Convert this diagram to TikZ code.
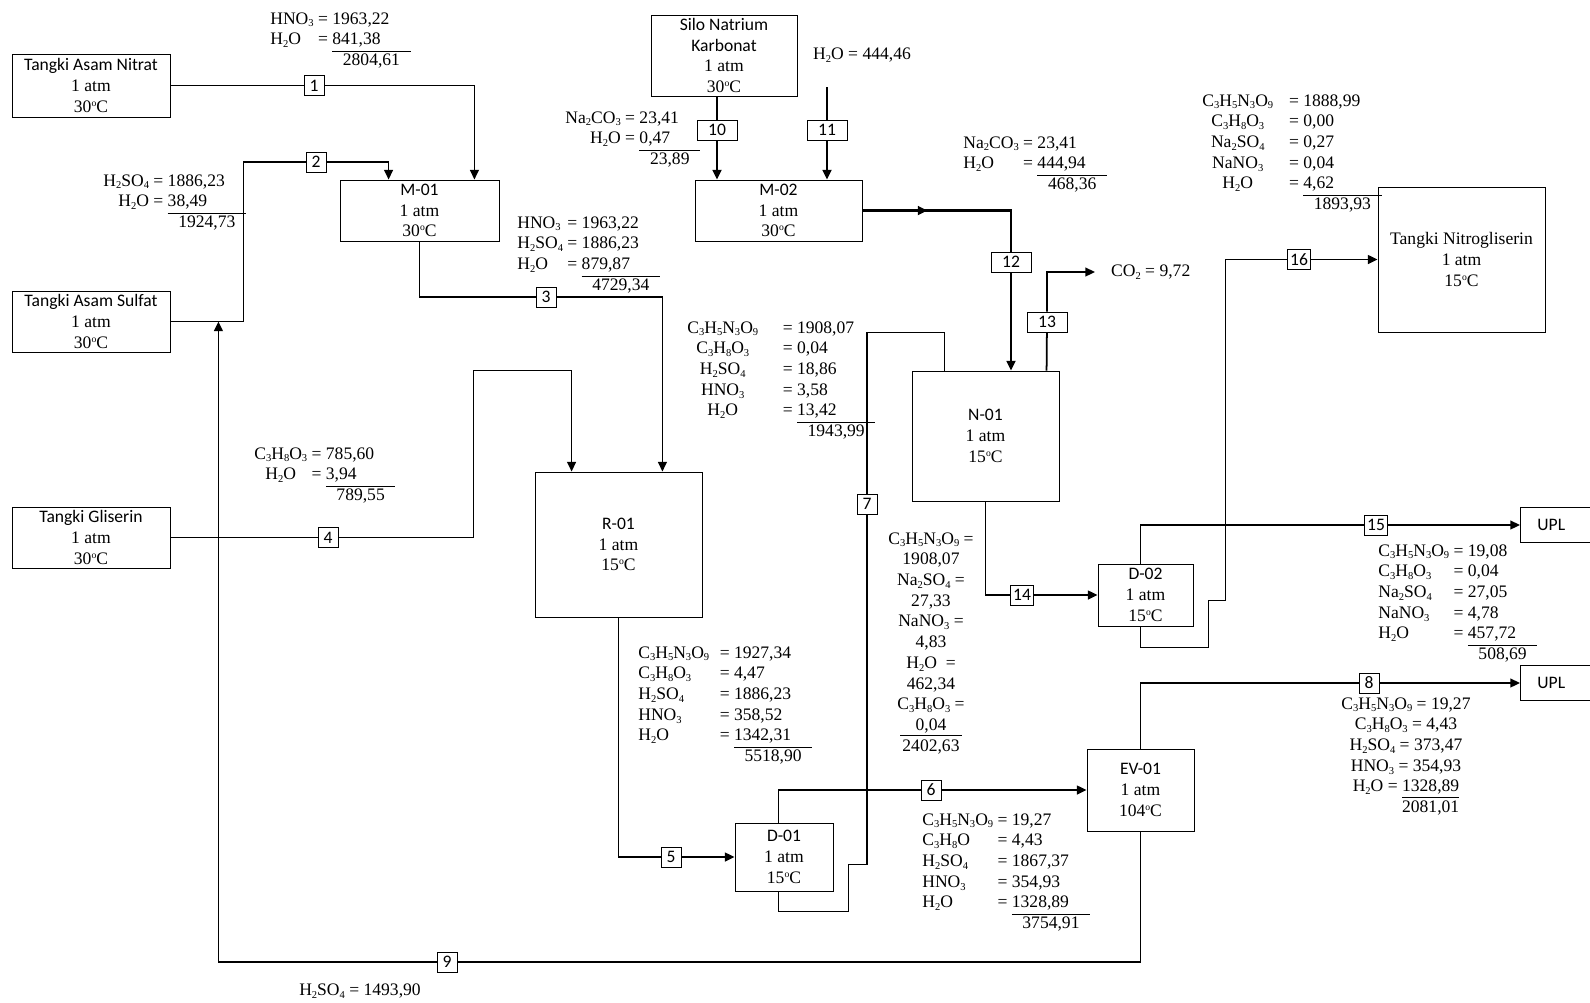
\documentclass[tikz,border=0pt]{standalone}
\usepackage{fontspec}
\setmainfont{Liberation Serif}
\newfontfamily\calibri{Carlito}
\usetikzlibrary{arrows.meta,calc,positioning}

% chemical names
\newcommand{\chsub}[1]{\raisebox{-0.35ex}{\fontsize{6}{6}\selectfont#1}}
\newcommand{\wat}{H\chsub{2}O}
\newcommand{\nit}{HNO\chsub{3}}
\newcommand{\sulf}{H\chsub{2}SO\chsub{4}}
\newcommand{\ngl}{C\chsub{3}H\chsub{5}N\chsub{3}O\chsub{9}}
\newcommand{\gly}{C\chsub{3}H\chsub{8}O\chsub{3}}
\newcommand{\soda}{Na\chsub{2}CO\chsub{3}}
\newcommand{\nasulf}{Na\chsub{2}SO\chsub{4}}
\newcommand{\nanit}{NaNO\chsub{3}}
\newcommand{\cotwo}{CO\chsub{2}}
\newcommand{\degc}{\raisebox{0.75ex}{\fontsize{5.5}{6}\selectfont o}C}
\newcommand{\flowtotal}[1]{\multicolumn{1}{r}{#1}}

\begin{document}
\begin{tikzpicture}[x=0.02cm,y=-0.02cm,
    font=\fontsize{10}{11.8}\selectfont,
    equip/.style={draw, line width=0.5pt, align=center, inner sep=1pt},
    snum/.style={draw, fill=white, line width=0.5pt, font=\calibri\fontsize{10}{11.8}\selectfont,
      minimum width=0.4cm, minimum height=0.4cm, inner sep=1.5pt},
    swide/.style={snum, minimum width=0.8cm},
    flow/.style={line width=1pt},
    flowto/.style={flow, -{Triangle[length=5.5pt,width=5pt]}},
    bold/.style={line width=1.3pt},
    mass/.style={anchor=base west, inner sep=0pt}
  ]
  \useasboundingbox (0,0) rectangle (1590,1002);

  % equipment
  \node[equip, minimum width=3.16cm, minimum height=1.26cm] (tan) at (91,85.5)
    {{\calibri Tangki Asam Nitrat}\\1 atm\\30\degc};
  \node[equip, minimum width=3.16cm, minimum height=1.22cm] (tas) at (91,321.5)
    {{\calibri Tangki Asam Sulfat}\\1 atm\\30\degc};
  \node[equip, minimum width=3.16cm, minimum height=1.22cm] (tgl) at (91,537.5)
    {{\calibri Tangki Gliserin}\\1 atm\\30\degc};
  \node[equip, minimum width=3.18cm, minimum height=1.22cm] (m01) at (419.5,210.5)
    {{\calibri M-01}\\1 atm\\30\degc};
  \node[equip, minimum width=2.92cm, minimum height=1.62cm] (silo) at (724,55.5)
    {{\calibri Silo Natrium}\\{\calibri Karbonat}\\1 atm\\30\degc};
  \node[equip, minimum width=3.34cm, minimum height=1.22cm] (m02) at (778.5,210.5)
    {{\calibri M-02}\\1 atm\\30\degc};
  \node[equip, minimum width=3.34cm, minimum height=2.9cm] (r01) at (618.5,544.5)
    {{\calibri R-01}\\1 atm\\15\degc};
  \node[equip, minimum width=2.94cm, minimum height=2.6cm] (n01) at (985.5,436)
    {{\calibri N-01}\\1 atm\\15\degc};
  \node[equip, minimum width=3.34cm, minimum height=2.9cm] (tng) at (1461.5,259.5)
    {Tangki Nitrogliserin\\1 atm\\15\degc};
  \node[equip, minimum width=1.96cm, minimum height=1.36cm] (d01) at (784,857)
    {{\calibri D-01}\\1 atm\\15\degc};
  \node[equip, minimum width=1.9cm, minimum height=1.24cm] (d02) at (1145.5,595)
    {{\calibri D-02}\\1 atm\\15\degc};
  \node[equip, minimum width=2.14cm, minimum height=1.64cm] (ev01) at (1140.5,790)
    {{\calibri EV-01}\\1 atm\\104\degc};
  \node[equip, anchor=west, minimum height=0.7cm, text width=1.2cm, align=left, inner xsep=0.34cm]
    (upl1) at (1520,525) {\calibri UPL};
  \node[equip, anchor=west, minimum height=0.7cm, text width=1.2cm, align=left, inner xsep=0.34cm]
    (upl2) at (1520,683) {\calibri UPL};

  % stream numbers
  \node[snum] (s1) at (314,85.5) {1};
  \node[snum] (s2) at (316,162) {2};
  \node[snum] (s3) at (546,297) {3};
  \node[snum] (s4) at (328,537.5) {4};
  \node[snum] (s5) at (671,857) {5};
  \node[snum] (s6) at (931,790) {6};
  \node[snum] (s7) at (867,504) {7};
  \node[snum] (s8) at (1369,683) {8};
  \node[snum] (s9) at (447,962) {9};
  \node[swide] (s10) at (717,130) {10};
  \node[swide] (s11) at (827,130) {11};
  \node[swide] (s12) at (1011,262) {12};
  \node[swide] (s13) at (1047,322) {13};
  \node[snum] (s14) at (1022,595) {14};
  \node[snum] (s15) at (1376,525) {15};
  \node[snum] (s16) at (1299,259.5) {16};
  \coordinate (w11) at (827,87);
  \node[anchor=west, inner xsep=9pt] (co2) at (1095,272) {\cotwo{} = 9,72};

  % streams
  \draw[flowto] (tan.east) -- (s1) -| ($(m01.north east)+(-25,0)$);
  \draw[flowto] (tas.east) -| ($(tas.east)+(73,-159.5)$) -- (s2) -| ($(m01.north west)+(49,0)$);
  \draw[flowto] (m01.south) |- (s3) -| ($(r01.north east)+(-40,0)$);
  \draw[flowto] (tgl.east) -- (s4) -| ($(r01.north west)+(-61,-101)$) -| ($(r01.north west)+(37,0)$);
  \draw[flowto] (r01.south) |- (s5) -- (d01.west);
  \draw[flowto] ($(d01.north west)+(44,0)$) |- (s6) -- (ev01.west);
  \draw[flow] ($(d01.south west)+(44,0)$) -- ++(0,20) -| ++(70,-47) -| (s7)
    |- ($(n01.north west)+(33,-38)$) -- ($(n01.north west)+(33,0)$);
  \draw[flowto] ($(ev01.north west)+(54,0)$) |- (s8) -- (upl2.west);
  \draw[flowto] ($(ev01.south west)+(54,0)$) |- (s9) -| ($(tas.east)+(48,0)$);
  \draw[flowto,bold] (silo.south -| s10) -- (s10) -- (s10 |- m02.north);
  \draw[flowto,bold] (w11) -- (s11) -- (s11 |- m02.north);
  \draw[flowto,bold] (m02.east) -| (s12) -- (s12 |- n01.north);
  \draw[flowto,bold] (m02.east) -- ++(65,0);
  \draw[flowto] ($(n01.north west)+(135,0)$) -- (s13) |- (co2.west);
  \draw[flowto] (n01.south) |- (s14) -- (d02.west);
  \draw[flowto] ($(d02.north west)+(43,0)$) |- (s15) -- (upl1.west);
  \draw[flowto] ($(d02.south west)+(43,0)$) -- ++(0,21) -| ++(68,-47) -- ++(17,0)
    |- (s16) -- (tng.west);

  % mass flows
  \node[mass] (f1) at (270,24) {\begin{tabular}[t]{@{}l@{ }c@{ }l@{\hspace{2pt}}}
    \nit & = & 1963,22\\ \wat & = & 841,38\\ \cline{3-3} & & \flowtotal{2804,61}\end{tabular}};
  \node[mass] (f2) at (103,186) {\begin{tabular}[t]{@{}r@{ }c@{ }l@{\hspace{2pt}}}
    \sulf & = & 1886,23\\ \wat & = & 38,49\\ \cline{3-3} & & \flowtotal{1924,73}\end{tabular}};
  \node[mass] (f3) at (517,228) {\begin{tabular}[t]{@{}l@{ }c@{ }l@{\hspace{2pt}}}
    \nit & = & 1963,22\\ \sulf & = & 1886,23\\ \wat & = & 879,87\\ \cline{3-3}
    & & \flowtotal{4729,34}\end{tabular}};
  \node[mass] (f4) at (254,459) {\begin{tabular}[t]{@{}c@{ }c@{ }l@{\hspace{2pt}}}
    \gly & = & 785,60\\ \wat & = & 3,94\\ \cline{3-3} & & \flowtotal{789,55}\end{tabular}};
  \node[mass] (f5) at (638,658) {\begin{tabular}[t]{@{}l@{\hspace{6pt}}c@{ }l@{\hspace{2pt}}}
    \ngl & = & 1927,34\\ \gly & = & 4,47\\ \sulf & = & 1886,23\\ \nit & = & 358,52\\
    \wat & = & 1342,31\\ \cline{3-3} & & \flowtotal{5518,90}\end{tabular}};
  \node[mass] (f6) at (922,825) {\begin{tabular}[t]{@{}l@{ }c@{ }l@{\hspace{2pt}}}
    \ngl & = & 19,27\\ C\chsub{3}H\chsub{8}O & = & 4,43\\ \sulf & = & 1867,37\\
    \nit & = & 354,93\\ \wat & = & 1328,89\\ \cline{3-3} & & \flowtotal{3754,91}\end{tabular}};
  \node[mass] (f7) at (687,333) {\begin{tabular}[t]{@{}c@{\hspace{14pt}}c@{ }l@{\hspace{2pt}}}
    \ngl & = & 1908,07\\ \gly & = & 0,04\\ \sulf & = & 18,86\\ \nit & = & 3,58\\
    \wat & = & 13,42\\ \cline{3-3} & & \flowtotal{1943,99}\end{tabular}};
  \node[mass, anchor=base] (f8) at (1406,709) {\begin{tabular}[t]{@{}c@{}}
    \ngl{} = 19,27\\ \gly{} = 4,43\\ \sulf{} = 373,47\\ \nit{} = 354,93\\
    \wat{} = \underline{1328,89}\\ \phantom{\wat{} = }2081,01\end{tabular}};
  \node (f9) at (360,991) {\sulf{} = 1493,90};
  \node[mass] (f10) at (565,123) {\begin{tabular}[t]{@{}r@{ }c@{ }l@{\hspace{2pt}}}
    \soda & = & 23,41\\ \wat & = & 0,47\\ \cline{3-3} & & \flowtotal{23,89}\end{tabular}};
  \node (f11) at (862,55) {\wat{} = 444,46};
  \node[mass] (f12) at (963,148) {\begin{tabular}[t]{@{}l@{ }c@{ }l@{\hspace{2pt}}}
    \soda & = & 23,41\\ \wat & = & 444,94\\ \cline{3-3} & & \flowtotal{468,36}\end{tabular}};
  \node[mass, anchor=base] (f14) at (931,544) {\begin{tabular}[t]{@{}c@{}}
    \ngl{} =\\ 1908,07\\ \nasulf{} =\\ 27,33\\ \nanit{} =\\ 4,83\\ \wat{}\ \ =\\ 462,34\\
    \gly{} =\\ \underline{\makebox[35pt]{0,04}}\\ 2402,63\end{tabular}};
  \node[mass] (f15) at (1378,556) {\begin{tabular}[t]{@{}l@{ }c@{ }l@{\hspace{2pt}}}
    \ngl & = & 19,08\\ \gly & = & 0,04\\ \nasulf & = & 27,05\\ \nanit & = & 4,78\\
    \wat & = & 457,72\\ \cline{3-3} & & \flowtotal{508,69}\end{tabular}};
  \node[mass] (f16) at (1202,106) {\begin{tabular}[t]{@{}c@{\hspace{9pt}}c@{ }l@{\hspace{2pt}}}
    \ngl & = & 1888,99\\ \gly & = & 0,00\\ \nasulf & = & 0,27\\ \nanit & = & 0,04\\
    \wat & = & 4,62\\ \cline{3-3} & & \flowtotal{1893,93}\end{tabular}};
\end{tikzpicture}
\end{document}
